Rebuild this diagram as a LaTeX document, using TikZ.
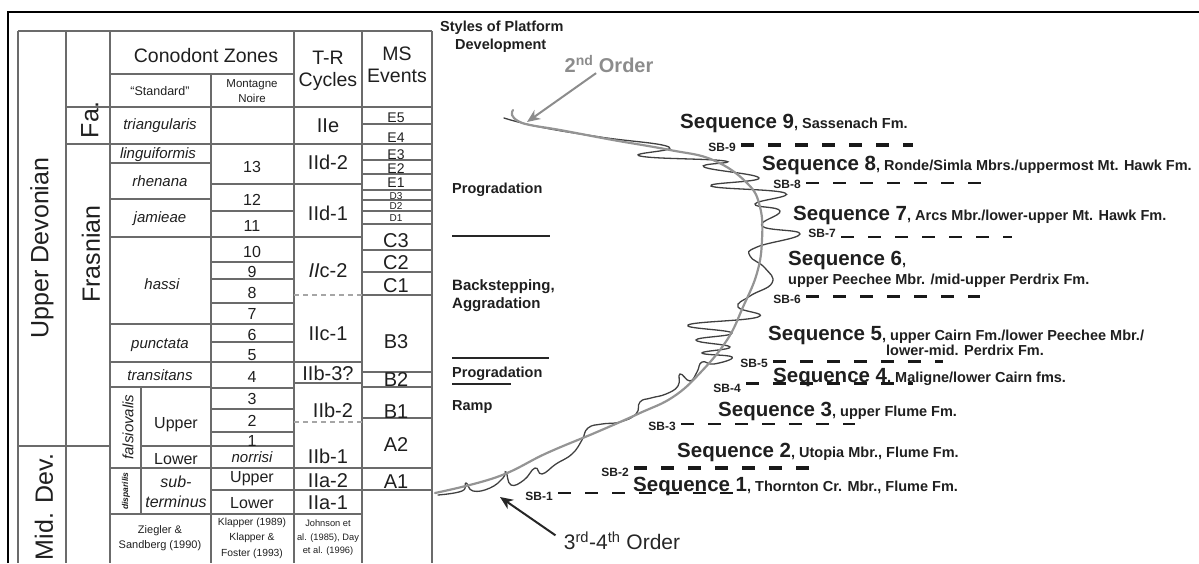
\documentclass[tikz,border=0pt]{standalone}
\usepackage{fontspec}
\setmainfont{Liberation Sans}
\usetikzlibrary{arrows.meta}
\newcommand{\fsz}[2]{\fontsize{#1}{#2}\selectfont}
\begin{document}
\begin{tikzpicture}[x=1pt,y=-1pt,
  tl/.style={draw=black!58, line width=1.1pt},
  tld/.style={draw=black!35, line width=1.1pt, dash pattern=on 5pt off 4pt},
  txt/.style={inner sep=0pt, text=black!88},
  hdr/.style={txt, align=center, font=\fsz{19.5}{22}},
  zone/.style={txt, font=\fsz{15}{17}\itshape},
  num/.style={txt, font=\fsz{16}{18}},
  tr/.style={txt, font=\fsz{20}{22}},
  evs/.style={txt, font=\fsz{14}{15}},
  evd/.style={txt, font=\fsz{10}{11}},
  evb/.style={txt, font=\fsz{20}{22}},
  ref/.style={txt, align=center},
  bigrot/.style={txt, rotate=90, font=\fsz{25}{28}},
  style/.style={txt, anchor=base west, font=\fsz{14.5}{17}\bfseries},
  seq/.style={txt, anchor=base west, font=\fsz{14.5}{17}\bfseries},
  sbl/.style={txt, anchor=east, font=\fsz{12}{13}\bfseries},
  sbline/.style={draw=black!90, dash pattern=on 13pt off 14pt},
  grayc/.style={draw=black!42, line width=2.2pt, line cap=round},
  blackc/.style={draw=black!75, line width=1.3pt, line cap=round},
]
\useasboundingbox (0,0) rectangle (1199,563);
% outer frame
\draw[line width=2.5pt] (8,563) -- (8,12) -- (1199,12);
% table verticals
\foreach \x/\a/\b in {18/31/563, 66/31/563, 110/31/563, 211/74/563, 294/31/563, 362/31/563, 432/31/563, 141/387/514}
  \draw[tl] (\x,\a) -- (\x,\b);
% table horizontals
\foreach \y/\a/\b in {31/18/432, 74/110/294, 107/66/432, 144/66/432, 446/18/110, 446/141/294,
  163/110/211, 199/110/211, 237/110/362, 324/110/294, 362/110/362, 387/110/211, 468/110/432, 514/110/362,
  184/211/362, 211/211/294, 262/211/294, 279/211/294, 303/211/294, 342/211/294, 388/211/294, 409/211/294,
  432/211/294, 490/211/432, 383/294/362,
  124/362/432, 160/362/432, 174/362/432, 190/362/432, 200/362/432, 211/362/432, 224/362/432, 250/362/432,
  272/362/432, 295/362/432, 372/362/432, 387/362/432, 418/362/432}
  \draw[tl] (\a,\y) -- (\b,\y);
\draw[tld] (294,295) -- (362,295);
\draw[tld] (294,422) -- (362,422);
% header
\node[hdr] (hcz) at (206,56) {Conodont Zones};
\node[hdr] (htr) at (328,71) {T-R\\Cycles};
\node[hdr] (hms) at (397,65) {MS\\Events};
\node[txt, font=\fsz{12.5}{14}] (hst) at (160,91) {“Standard”};
\node[txt, align=center, font=\fsz{11.5}{15}] (hmn) at (252,91) {Montagne\\Noire};
% big rotated labels
\node[bigrot] (lud) at (42,248) {Upper Devonian};
\node[bigrot] (lfr) at (91,254) {Frasnian};
\node[bigrot] (lfa) at (90,120) {Fa.};
\node[bigrot] (lmd) at (44,507) {Mid. Dev.};
% standard zones
\node[zone] (z1) at (160,126) {triangularis};
\node[zone] (z2) at (158,155) {linguiformis};
\node[zone] (z3) at (160,181) {rhenana};
\node[zone] (z4) at (160,219) {jamieae};
\node[zone] (z5) at (162,284) {hassi};
\node[zone] (z6) at (160,345) {punctata};
\node[zone] (z7) at (160,375) {transitans};
\node[zone, rotate=90] (z8) at (128,427) {falsiovalis};
\node[txt, rotate=90, font=\fsz{8.5}{9}\itshape\bfseries] (z9) at (126,491) {disparilis};
\node[txt, font=\fsz{16}{18}] (z10) at (176,425) {Upper};
\node[txt, font=\fsz{16}{18}] (z11) at (176,459) {Lower};
\node[zone, align=center, font=\fsz{16}{20}\itshape] (z12) at (176,492) {sub-\\terminus};
% montagne noire numbers
\foreach \n/\y in {13/167, 12/200, 11/226, 10/252, 9/272, 8/293, 7/314, 6/335, 5/355, 4/377, 3/399, 2/421, 1/441}
  \node[num] (m\n) at (252,\y) {\n};
\node[zone] (mno) at (252,457) {norrisi};
\node[num] (mup) at (252,479) {Upper};
\node[num] (mlo) at (252,503) {Lower};
% T-R cycles
\node[tr] (t1) at (328,126) {IIe};
\node[tr] (t2) at (328,162) {IId-2};
\node[tr] (t3) at (328,213) {IId-1};
\node[tr] (t4) at (328,271) {{\itshape II}c-2};
\node[tr] (t5) at (328,334) {IIc-1};
\node[tr] (t6) at (328,373) {IIb-3?};
\node[tr] (t7) at (333,410) {IIb-2};
\node[tr] (t8) at (328,456) {IIb-1};
\node[tr] (t9) at (328,481) {IIa-2};
\node[tr] (t10) at (328,503) {IIa-1};
% MS events
\node[evs] (e5) at (396,118) {E5};
\node[evs] (e4) at (396,138) {E4};
\node[evs] (e3) at (396,155) {E3};
\node[evs] (e2) at (396,169) {E2};
\node[evs] (e1) at (396,183) {E1};
\node[evd] (d3) at (396,196) {D3};
\node[evd] (d2) at (396,206) {D2};
\node[evd] (d1) at (396,218) {D1};
\node[evb] (c3) at (396,241) {C3};
\node[evb] (c2) at (396,263) {C2};
\node[evb] (c1) at (396,286) {C1};
\node[evb] (b3) at (396,342) {B3};
\node[evb] (b2) at (396,380) {B2};
\node[evb] (b1) at (396,412) {B1};
\node[evb] (a2) at (396,445) {A2};
\node[evb] (a1) at (396,482) {A1};
% references
\node[ref, font=\fsz{11}{15}] (r1) at (160,538) {Ziegler \&\\Sandberg (1990)};
\node[ref, font=\fsz{10.3}{15.5}] (r2) at (252,538) {Klapper (1989)\\Klapper \&\\Foster (1993)};
\node[ref, font=\fsz{9.3}{13.5}] (r3) at (328,538) {Johnson et\\al. (1985), Day\\et al. (1996)};
% styles of platform development
\node[style] (s1) at (440,31) {Styles of Platform};
\node[style] (s2) at (455,49) {Development};
\node[style] (s3) at (452,193) {Progradation};
\node[style, font=\fsz{15}{17}\bfseries] (s4) at (452,290) {Backstepping,};
\node[style, font=\fsz{15}{17}\bfseries] (s5) at (452,308) {Aggradation};
\node[style] (s6) at (452,377) {Progradation};
\node[style] (s7) at (452,410) {Ramp};
\coordinate (h1a) at (452,236); \coordinate (h1b) at (550,236);
\coordinate (h2a) at (452,358); \coordinate (h2b) at (549,358);
\coordinate (h3a) at (452,384); \coordinate (h3b) at (511,384);
\draw[line width=2.2pt, black!85] (h1a) -- (h1b);
\draw[line width=2.2pt, black!85] (h2a) -- (h2b);
\draw[line width=2.2pt, black!85] (h3a) -- (h3b);
% curves
\draw[blackc] plot[smooth, tension=0.8] coordinates {(438,495) (462,491) (466,483) (473,491) (490,488) (503,478) (506,472) (511,485) (524,480) (535,468) (542,474) (556,464) (572,454) (582,440) (588,428) (602,424) (620,422) (636,414) (640,402) (651,398) (666,394) (678,386) (680,374) (690,381) (697,372) (702,362) (714,364) (732,357) (702,353) (730,347) (696,340) (732,333) (688,325) (758,317) (738,307) (750,296) (772,283) (765,268) (750,256) (757,247) (800,234) (762,226) (780,211) (755,204) (785,193) (711,186) (759,178) (704,167) (725,161) (640,156) (669,147) (600,137) (540,127) (504,118)};
\draw[grayc] plot[smooth, tension=0.7] coordinates {(435,493) (497,477) (547,453) (597,432) (640,413) (673,397) (700,373) (727,340) (743,307) (757,273) (762,240) (760,207) (747,183) (713,160) (670,150) (613,140) (560,130) (530,125) (518,121) (512,115) (513,110)};
% order labels and arrows
\node[txt, text=black!45, font=\fsz{20}{22}\bfseries] (o2) at (609,64) {2\textsuperscript{nd} Order};
\coordinate (o2tip) at (527,122);
\draw[draw=black!45, line width=2pt, -{Stealth[length=13pt,width=11pt,inset=4pt]}] (o2) -- (o2tip);
\node[txt, text=black!85, font=\fsz{21}{23}] (o34) at (622,541) {3\textsuperscript{rd}-4\textsuperscript{th} Order};
\coordinate (o34tip) at (500,497);
\draw[draw=black!85, line width=2pt, shorten <=10pt, -{Stealth[length=13pt,width=11pt,inset=4pt]}] (o34.west) -- (o34tip);
% sequence boundaries
\foreach \i/\lx/\ly/\ex/\ey/\w in {9/736/147/913/145/3.2, 8/801/184/982/183/2.3, 7/836/233/1012/237/2.3, 6/801/299/980/296/3.0,
   5/768/363/943/361/3.0, 4/741/388/913/383/3.0, 3/676/426/855/424/2.2, 2/629/472/813/468/3.3, 1/553/496/733/493/2.4}{
  \node[sbl] (sb\i) at (\lx,\ly) {SB-\i};
  \coordinate (sb\i e) at (\ex,\ey);
  \draw[sbline, line width=\w pt] (sb\i.east |- sb\i e) ++(5pt,0) -- (sb\i e);
}
% sequences
\node[seq] (q9) at (680,128) {{\fsz{20.5}{24}Sequence 9}, Sassenach Fm.};
\node[seq] (q8) at (762,170) {{\fsz{20.5}{24}Sequence 8}, Ronde/Simla Mbrs./uppermost Mt. Hawk Fm.};
\node[seq] (q7) at (793,220) {{\fsz{20.5}{24}Sequence 7}, Arcs Mbr./lower-upper Mt. Hawk Fm.};
\node[seq] (q6) at (788,265) {{\fsz{20.5}{24}Sequence 6},};
\node[seq] (q6b) at (788,284) {upper Peechee Mbr. /mid-upper Perdrix Fm.};
\node[seq] (q5) at (768,340) {{\fsz{20.5}{24}Sequence 5}, upper Cairn Fm./lower Peechee Mbr./};
\node[seq] (q5b) at (886,355) {lower-mid. Perdrix Fm.};
\node[seq] (q4) at (773,382) {{\fsz{20.5}{24}Sequence 4}, Maligne/lower Cairn fms.};
\node[seq] (q3) at (718,416) {{\fsz{20.5}{24}Sequence 3}, upper Flume Fm.};
\node[seq] (q2) at (677,457) {{\fsz{20.5}{24}Sequence 2}, Utopia Mbr., Flume Fm.};
\node[seq] (q1) at (633,491) {{\fsz{20.5}{24}Sequence 1}, Thornton Cr. Mbr., Flume Fm.};
\end{tikzpicture}
\end{document}
